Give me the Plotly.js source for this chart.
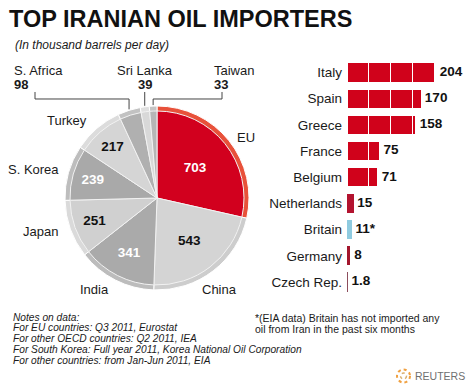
<!DOCTYPE html>
<html>
<head>
<meta charset="utf-8">
<script src="https://cdn.plot.ly/plotly-3.0.1.min.js"></script>
<style>html,body{margin:0;padding:0;background:#fff;}#chart{width:468px;height:385px;}</style>
</head>
<body>
<div id="chart"></div>
<script>
// ---------- DATA ----------
const pieLabels = ['EU', 'China', 'India', 'Japan', 'S. Korea', 'Turkey', 'S. Africa', 'Sri Lanka', 'Taiwan'];
const pieValues = [703, 543, 341, 251, 239, 217, 98, 39, 33];

const barCats = ['Italy', 'Spain', 'Greece', 'France', 'Belgium', 'Netherlands', 'Britain', 'Germany', 'Czech Rep.'];
const barValues = [204, 170, 158, 75, 71, 15, 11, 8, 1.8];
const barLabels = ['204', '170', '158', '75', '71', '15', '11*', '8', '1.8'];

const titleText = 'TOP IRANIAN OIL IMPORTERS';
const subtitleText = '(In thousand barrels per day)';
const notesLines = ['Notes on data:', 'For EU countries: Q3 2011, Eurostat', 'For other OECD countries: Q2 2011, IEA',
  'For South Korea: Full year 2011, Korea National Oil Corporation', 'For other countries: from Jan-Jun 2011, EIA'];
const britainNote = ['*(EIA data) Britain has not imported any', 'oil from Iran in the past six months'];

// ---------- STYLE ----------
const W = 468, H = 385;
const px = x => x / W;
const py = y => 1 - y / H;
const FONT = 'Liberation Sans, Arial, sans-serif';

const sliceColors = ['#d2001e', '#d4d4d4', '#aaaaaa', '#d0d0d0', '#a9a9a9', '#d5d5d5', '#b0b0b0', '#d8d8d8', '#b6b6b6'];
const ringColors  = ['#e8513a', '#cdcdcd', '#bcbcbc', '#dadada', '#bdbdbd', '#dcdcdc', '#c2c2c2', '#e0e0e0', '#c4c4c4'];
const insideColors = ['#ffffff', '#111111', '#ffffff', '#111111', '#ffffff', '#111111', '#111111', '#111111', '#111111'];
const insideShown = [true, true, true, true, true, true, false, false, false];
const barColors = ['#d0021b', '#d0021b', '#d0021b', '#d0021b', '#d0021b', '#b3132f', '#8fcbe0', '#a3162d', '#8c4d5c'];

const PIE = {cx: 157, cy: 198, r: 92, ring: 5};
const pieDomain = r => ({x: [px(PIE.cx - r), px(PIE.cx + r)], y: [py(PIE.cy + r), py(PIE.cy - r)]});

// ---------- TRACES ----------
const traces = [];
traces.push({
  type: 'pie', values: pieValues, labels: pieLabels, sort: false, direction: 'clockwise', rotation: 0,
  domain: pieDomain(PIE.r), textinfo: 'none', hoverinfo: 'skip', showlegend: false,
  marker: {colors: ringColors, line: {color: '#ffffff', width: 1}}
});
traces.push({
  type: 'pie', values: pieValues, labels: pieLabels, sort: false, direction: 'clockwise', rotation: 0,
  domain: pieDomain(PIE.r - PIE.ring), showlegend: false, hoverinfo: 'skip',
  texttemplate: '<b>%{value}</b>',
  textposition: insideShown.map(s => s ? 'inside' : 'none'),
  insidetextorientation: 'horizontal',
  insidetextfont: {family: FONT, size: 13.5, color: insideColors},
  marker: {colors: sliceColors, line: {color: '#f2f2f2', width: 1}}
});

// bars split into 50-unit segments (white separators like the reference)
const SEG = 50;
const nSeg = Math.ceil(Math.max(...barValues) / SEG);
for (let k = 0; k < nSeg; k++) {
  traces.push({
    type: 'bar', orientation: 'h', y: barCats,
    x: barValues.map(v => Math.max(0, Math.min(SEG, v - SEG * k))),
    marker: {color: barColors, line: {color: '#ffffff', width: barValues.map(v => v >= SEG ? 1 : 0)}},
    hoverinfo: 'skip', showlegend: false, xaxis: 'x', yaxis: 'y'
  });
}
traces.push({
  type: 'scatter', mode: 'text', x: barValues, y: barCats, text: barLabels,
  texttemplate: '<b> %{text}</b>', textposition: 'middle right',
  textfont: {family: FONT, size: 13.5, color: '#111'}, cliponaxis: false,
  hoverinfo: 'skip', showlegend: false
});

// ---------- ANNOTATIONS ----------
const ann = [];
const addText = (text, x, y, xanchor, opts = {}) => ann.push(Object.assign({
  text, x: px(x), y: py(y), xref: 'paper', yref: 'paper', xanchor, yanchor: 'middle', showarrow: false,
  font: {family: FONT, size: 13, color: '#1a1a1a'}
}, opts));

addText(subtitleText, 13, 45, 'left', {font: {family: FONT, size: 12, color: '#1a1a1a', style: 'italic'}});

const labelPos = {
  'EU': [246, 137, 'center'], 'China': [219, 289, 'center'], 'India': [94, 289, 'center'],
  'Japan': [40, 231, 'center'], 'S. Korea': [33, 170, 'center'], 'Turkey': [67, 120, 'center'],
  'S. Africa': [13, 77, 'left'], 'Sri Lanka': [145, 77, 'center'], 'Taiwan': [213, 77, 'left']
};
pieLabels.forEach((lab, i) => {
  const p = labelPos[lab];
  if (insideShown[i]) {
    addText(lab, p[0], p[1], p[2]);
  } else {
    // name above, bold value below, sharing the same split line
    addText(lab, p[0], p[1] + 1.5, p[2], {yanchor: 'bottom', borderpad: 0});
    addText('<b>' + pieValues[i] + '</b>', p[0], p[1] - 1.5, p[2], {yanchor: 'top', borderpad: 0});
  }
});

notesLines.forEach((t, i) => addText(t, 12, 317 + i * 10.8, 'left',
  {borderpad: 0, font: {family: FONT, size: 10.2, color: '#1a1a1a', style: 'italic'}}));
britainNote.forEach((t, i) => addText(t, 254, 318 + i * 11, 'left', {borderpad: 0, font: {family: FONT, size: 10.5, color: '#1a1a1a'}}));
addText('REUTERS', 413, 376, 'left', {font: {family: FONT, size: 10.5, color: '#6f6f6f'}});

// ---------- LEADER LINES (computed from slice mid-angles) ----------
const total = pieValues.reduce((a, b) => a + b, 0);
let cum = 0;
const edge = pieValues.map(v => {
  const f = (cum + v / 2) / total; cum += v;
  const a = 2 * Math.PI * f;
  return [PIE.cx + PIE.r * Math.sin(a), PIE.cy - PIE.r * Math.cos(a)];
});
const P = (x, y) => px(x).toFixed(5) + ',' + py(y).toFixed(5);
const shapes = [];
const lineStyle = {color: '#444', width: 1};
const iSA = pieLabels.indexOf('S. Africa'), iSL = pieLabels.indexOf('Sri Lanka'), iTW = pieLabels.indexOf('Taiwan');
shapes.push({type: 'path', xref: 'paper', yref: 'paper', line: lineStyle,
  path: 'M' + P(35, 92) + 'L' + P(35, 99) + 'L' + P(edge[iSA][0], 99) + 'L' + P(edge[iSA][0], edge[iSA][1] - 1)});
shapes.push({type: 'path', xref: 'paper', yref: 'paper', line: lineStyle,
  path: 'M' + P(edge[iSL][0], 92) + 'L' + P(edge[iSL][0], edge[iSL][1] - 1)});
shapes.push({type: 'path', xref: 'paper', yref: 'paper', line: lineStyle,
  path: 'M' + P(222, 92) + 'L' + P(222, 99) + 'L' + P(edge[iTW][0], 99) + 'L' + P(edge[iTW][0], edge[iTW][1] - 1)});
// Reuters logo
shapes.push({type: 'circle', xref: 'paper', yref: 'paper', x0: px(397), x1: px(410), y0: py(382.5), y1: py(369.5),
  line: {color: '#f0a040', width: 2, dash: 'dot'}});
shapes.push({type: 'circle', xref: 'paper', yref: 'paper', x0: px(400.5), x1: px(406.5), y0: py(379), y1: py(373),
  line: {color: '#d9b070', width: 1.5, dash: 'dot'}});

// ---------- LAYOUT ----------
const layout = {
  width: W, height: H, margin: {l: 0, r: 0, t: 0, b: 0},
  paper_bgcolor: '#fff', plot_bgcolor: 'rgba(0,0,0,0)',
  font: {family: FONT, color: '#1a1a1a'},
  title: {text: '<b>' + titleText + '</b>', font: {family: FONT, size: 23.5, color: '#111'},
    xref: 'paper', x: px(9), xanchor: 'left', yref: 'container', y: 1 - 19 / H, yanchor: 'middle'},
  barmode: 'stack', bargap: 0.27, showlegend: false,
  xaxis: {domain: [px(347), 1], range: [0, (W - 347) / 0.436], visible: false, fixedrange: true},
  yaxis: {domain: [py(295.1), py(59.4)], type: 'category', autorange: 'reversed', showgrid: false,
    zeroline: false, showline: false, ticks: '', ticklabelstandoff: 4,
    tickfont: {family: FONT, size: 13.5, color: '#1a1a1a'}, fixedrange: true},
  annotations: ann, shapes: shapes
};

Plotly.newPlot('chart', traces, layout, {staticPlot: true, displayModeBar: false});
</script>
</body>
</html>
